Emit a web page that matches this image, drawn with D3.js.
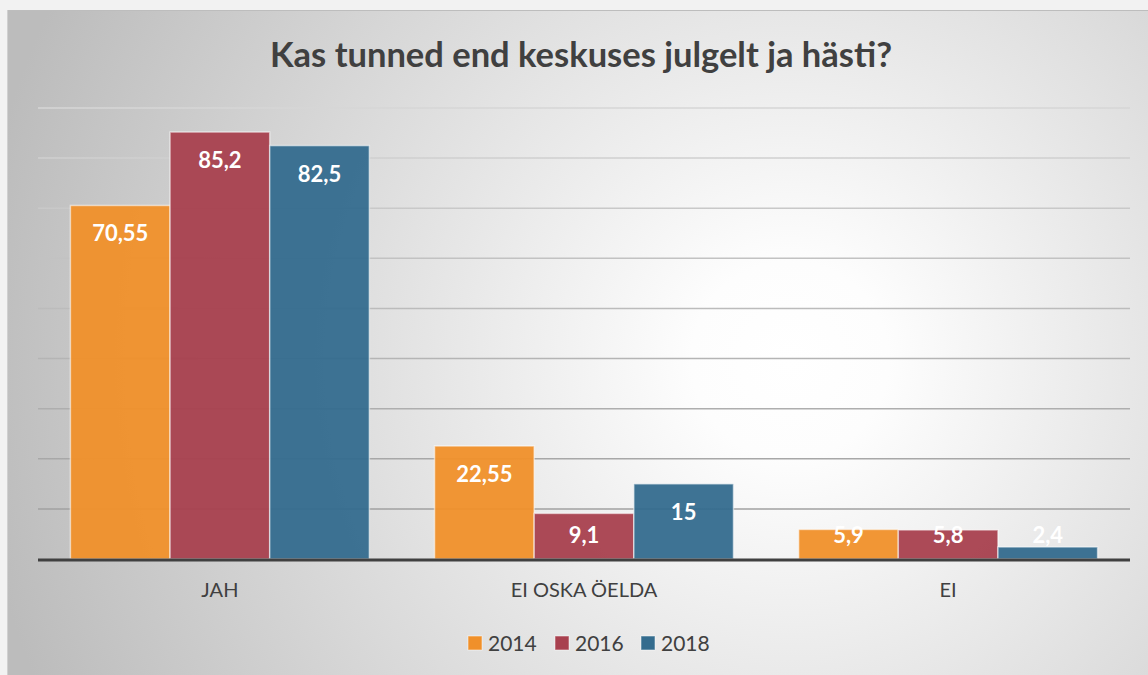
<!DOCTYPE html>
<html>
<head>
<meta charset="utf-8">
<script src="https://cdn.jsdelivr.net/npm/d3@7"></script>
<style>
  body { margin: 0; background: #f2f2f2; }
  svg { display: block; font-family: Lato, "Noto Sans", sans-serif; }
</style>
</head>
<body>
<div id="chart"></div>
<script>
const categories = ["JAH", "EI OSKA ÖELDA", "EI"];
const years = ["2014", "2016", "2018"];
const values2014 = [70.55, 22.55, 5.9];
const values2016 = [85.2, 9.1, 5.8];
const values2018 = [82.5, 15, 2.4];
const yTicks = [0, 10, 20, 30, 40, 50, 60, 70, 80, 90];
const colors = ["#f0902a", "#a8404e", "#346c8e"];

const seriesValues = [values2014, values2016, values2018];
const rows = categories.map((c, i) => ({
    category: c,
    values: years.map((y, j) => ({ year: y, value: seriesValues[j][i], idx: j }))
}));

const WIDTH = 1148, HEIGHT = 675;
const MARGIN = { LEFT: 38, RIGHT: 18, TOP: 108, BOTTOM: 116 };

const svg = d3.select("#chart").append("svg")
    .attr("width", WIDTH)
    .attr("height", HEIGHT);

const defs = svg.append("defs");
const bg = defs.append("radialGradient")
    .attr("id", "bg")
    .attr("gradientUnits", "userSpaceOnUse")
    .attr("cx", 790).attr("cy", 360).attr("r", 820);
bg.append("stop").attr("offset", "0%").attr("stop-color", "#ffffff");
bg.append("stop").attr("offset", "12%").attr("stop-color", "#fdfdfd");
bg.append("stop").attr("offset", "100%").attr("stop-color", "#bcbcbc");

const gridGrad = defs.append("linearGradient")
    .attr("id", "gridGrad")
    .attr("gradientUnits", "userSpaceOnUse")
    .attr("x1", 0).attr("y1", MARGIN.TOP).attr("x2", 0).attr("y2", HEIGHT - MARGIN.BOTTOM);
gridGrad.append("stop").attr("offset", "0%").attr("stop-color", "#d6d6d6");
gridGrad.append("stop").attr("offset", "100%").attr("stop-color", "#9a9a9a");

// chart frame
svg.append("rect")
    .attr("x", 7).attr("y", 10)
    .attr("width", WIDTH - 7).attr("height", HEIGHT - 10)
    .attr("fill", "url(#bg)");
svg.append("line")
    .attr("x1", 7).attr("x2", WIDTH).attr("y1", 10.5).attr("y2", 10.5)
    .attr("stroke", "#bdbdbd").attr("stroke-width", 1);
svg.append("line")
    .attr("x1", 7.5).attr("x2", 7.5).attr("y1", 10).attr("y2", HEIGHT)
    .attr("stroke", "#d0d0d0").attr("stroke-width", 1);

// title
svg.append("text")
    .attr("x", 581)
    .attr("y", 67)
    .attr("text-anchor", "middle")
    .style("font-size", "34.5px")
    .style("font-weight", "bold")
    .attr("fill", "#404040")
    .text("Kas tunned end keskuses julgelt ja hästi?");

const x0 = d3.scaleBand()
    .domain(categories)
    .range([MARGIN.LEFT, WIDTH - MARGIN.RIGHT])
    .paddingInner(0.179)
    .paddingOuter(0.089);

const x1 = d3.scaleBand()
    .domain(years)
    .range([0, x0.bandwidth()]);

const y = d3.scaleLinear()
    .domain([0, 90])
    .range([HEIGHT - MARGIN.BOTTOM, MARGIN.TOP]);

// gridlines
svg.append("g")
    .selectAll("line")
    .data(yTicks.filter(d => d > 0))
    .join("line")
    .attr("x1", MARGIN.LEFT)
    .attr("x2", WIDTH - MARGIN.RIGHT)
    .attr("y1", d => y(d))
    .attr("y2", d => y(d))
    .attr("stroke", "url(#gridGrad)")
    .attr("stroke-width", 1.5);

// bars
const groups = svg.append("g")
    .selectAll("g")
    .data(rows)
    .join("g")
    .attr("transform", d => `translate(${x0(d.category)}, 0)`);

groups.selectAll("rect")
    .data(d => d.values)
    .join("rect")
    .attr("x", d => x1(d.year))
    .attr("y", d => y(d.value))
    .attr("width", x1.bandwidth())
    .attr("height", d => y(0) - y(d.value))
    .attr("fill", d => colors[d.idx])
    .attr("fill-opacity", 0.95)
    .attr("stroke", "#ffffff")
    .attr("stroke-opacity", 0.55)
    .attr("stroke-width", 1.5);

// value labels
groups.selectAll("text")
    .data(d => d.values)
    .join("text")
    .attr("x", d => x1(d.year) + x1.bandwidth() / 2)
    .attr("y", d => Math.min(y(d.value) + 28, 535) + 8)
    .attr("text-anchor", "middle")
    .style("font-size", "22px")
    .style("font-weight", "bold")
    .attr("fill", "#ffffff")
    .text(d => String(d.value).replace(".", ","));

// baseline
svg.append("line")
    .attr("x1", MARGIN.LEFT)
    .attr("x2", WIDTH - MARGIN.RIGHT)
    .attr("y1", y(0) + 1)
    .attr("y2", y(0) + 1)
    .attr("stroke", "#404040")
    .attr("stroke-width", 3);

// category axis
const xAxis = svg.append("g")
    .attr("transform", `translate(0, ${y(0)})`)
    .call(d3.axisBottom(x0).tickSize(0).tickPadding(24));
xAxis.select(".domain").remove();
xAxis.selectAll("text")
    .style("font-size", "20px")
    .style("font-family", "Lato, 'Noto Sans', sans-serif")
    .attr("fill", "#404040");

// legend
const legendX = [468, 555, 641];
const legend = svg.append("g")
    .selectAll("g")
    .data(years)
    .join("g")
    .attr("transform", (d, i) => `translate(${legendX[i]}, 643)`);

legend.append("rect")
    .attr("x", 0).attr("y", -7)
    .attr("width", 14).attr("height", 14)
    .attr("fill", (d, i) => colors[i])
    .attr("stroke", "#ffffff")
    .attr("stroke-opacity", 0.5);

legend.append("text")
    .attr("x", 20)
    .attr("y", 8)
    .style("font-size", "21px")
    .attr("fill", "#404040")
    .text(d => d);
</script>
</body>
</html>
